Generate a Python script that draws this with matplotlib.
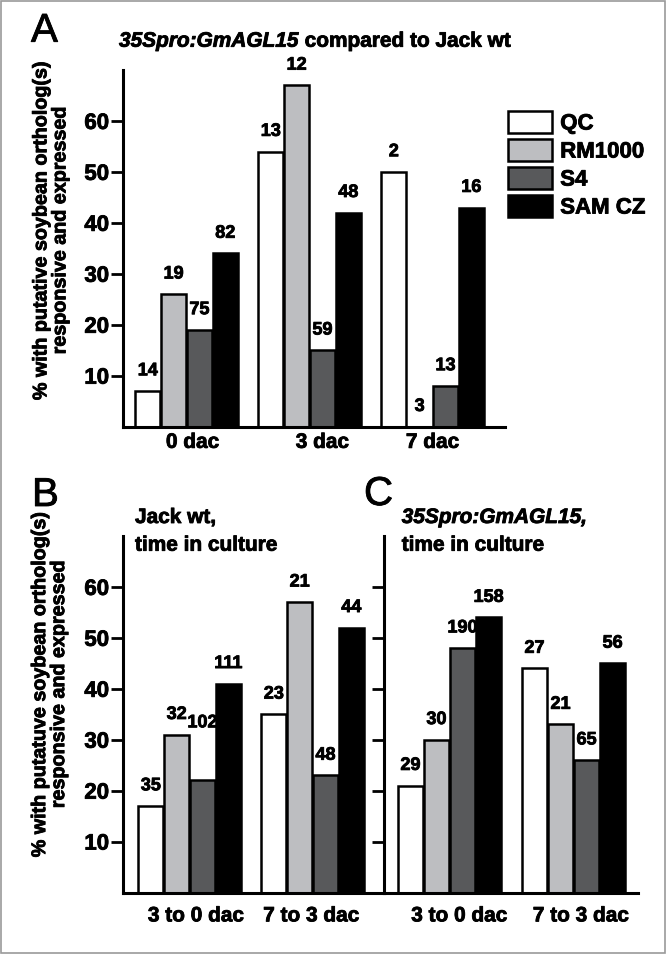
import numpy as np
import matplotlib.pyplot as plt
from matplotlib.patches import Patch, Rectangle
from matplotlib.text import Text
import matplotlib.patheffects as pe

# categories and series
series = ["QC", "RM1000", "S4", "SAM CZ"]
colors = ["white", "#bdbec1", "#58595b", "black"]

a_groups = ["0 dac", "3 dac", "7 dac"]
bc_groups = ["3 to 0 dac", "7 to 3 dac"]

# % with putative soybean ortholog(s), one row per series
a_pct = [[7, 54, 50], [26, 67, 0], [19, 15, 8], [34, 42, 43]]
b_pct = [[17, 35], [31, 57], [22, 23], [41, 52]]
c_pct = [[21, 44], [30, 33], [48, 26], [54, 45]]

# numbers written above the bars
a_n = [[14, 13, 2], [19, 12, 3], [75, 59, 13], [82, 48, 16]]
b_n = [[35, 23], [32, 21], [102, 48], [111, 44]]
c_n = [[29, 27], [30, 21], [190, 65], [158, 56]]

W, H = 669, 957
plt.rcParams['font.family'] = ['Liberation Sans', 'DejaVu Sans']
plt.rcParams['font.weight'] = 'bold'

fig = plt.figure(figsize=(W / 100, H / 100), dpi=100)


def box(x0, y0, x1, y1):
    # pixel box (y from top) -> figure fraction
    return [x0 / W, 1 - y1 / H, (x1 - x0) / W, (y1 - y0) / H]


axA = fig.add_axes(box(123, 70, 505, 426.6))
axB = fig.add_axes(box(123, 536, 384, 892.5))
axC = fig.add_axes(box(384, 536, 638, 892.5))

BW = 0.21


def draw(ax, pct, n, groups, xlim, label_shift, xpad, nudge=None, ticklabels=True):
    nudge = nudge or {}
    x = np.arange(len(groups))
    for i in range(len(series)):
        pos = x + (i - 1.5) * BW
        ax.bar(pos, pct[i], BW * 0.97, color=colors[i], edgecolor='black',
               linewidth=1.8, zorder=2)
        for j in range(len(groups)):
            ax.annotate(str(n[i][j]), (pos[j], pct[i][j]),
                        xytext=(0, 14.5 + nudge.get((i, j), 0)),
                        textcoords='offset points', ha='center', va='center',
                        fontsize=13)
    ax.set_xlim(*xlim)
    ax.set_ylim(0, 70)
    ax.set_yticks(range(10, 70, 10))
    if not ticklabels:
        ax.set_yticklabels([])
    ax.set_xticks(x + np.array(label_shift), groups)
    ax.tick_params(axis='x', length=0, pad=xpad, labelsize=15)
    ax.tick_params(axis='y', length=9, width=2, labelsize=16, pad=1)
    for s in ['top', 'right']:
        ax.spines[s].set_visible(False)
    for s in ['left', 'bottom']:
        ax.spines[s].set_linewidth(2.2)


draw(axA, a_pct, a_n, a_groups, (-0.516, 2.589), [0.05, 0.105, 0.0], 4.5)
draw(axB, b_pct, b_n, bc_groups, (-0.541, 1.581), [0.053, -0.01], 10,
     nudge={(2, 0): 27})
draw(axC, c_pct, c_n, bc_groups, (-0.528, 1.52), [0.08, 0.06], 10,
     ticklabels=False)

ylab = "% with {} soybean ortholog(s)\nresponsive and expressed"
axA.text(-0.19, 0.55, ylab.format("putative"), transform=axA.transAxes,
         rotation=90, ha='center', va='center', fontsize=14.2,
         linespacing=1.0, multialignment='center')
axB.text(-0.283, 0.584, ylab.format("putatuve"), transform=axB.transAxes,
         rotation=90, ha='center', va='center', fontsize=14.2,
         linespacing=1.0, multialignment='center')

# panel letters
for letter, px, py in [("A", 31, 41.7), ("B", 32, 506), ("C", 364, 505)]:
    fig.text(px / W, 1 - py / H, letter, fontsize=29, fontweight='normal',
             va='baseline')

# panel titles
t1 = fig.text(119 / W, 1 - 46.7 / H, "35Spro:GmAGL15", style='italic',
              fontsize=15, va='baseline')
axA.annotate(" compared to Jack wt", xy=(1, 0), xycoords=t1, ha='left',
             va='bottom', fontsize=15, annotation_clip=False)
fig.text(135 / W, 1 - 523 / H, "Jack wt,", fontsize=15, va='baseline')
fig.text(135 / W, 1 - 550.7 / H, "time in culture", fontsize=15, va='baseline')
fig.text(401.7 / W, 1 - 523 / H, "35Spro:GmAGL15,", style='italic',
         fontsize=15, va='baseline')
fig.text(401.7 / W, 1 - 550.7 / H, "time in culture", fontsize=15,
         va='baseline')

handles = [Patch(facecolor=c, edgecolor='black', linewidth=1.8) for c in colors]
fig.legend(handles, series, loc='upper left', bbox_to_anchor=(508 / W, 1 - 111 / H),
           frameon=False, fontsize=16, handlelength=2.0, handleheight=1.15,
           handletextpad=0.35, labelspacing=0.2, borderpad=0, borderaxespad=0)

fig.add_artist(Rectangle((0.5 / W, 1 - 953 / H), 664.5 / W, 952.5 / H,
                         transform=fig.transFigure, fill=False,
                         edgecolor='#9a9a9a', linewidth=1.2))

# the printed figure has heavy type: thicken every text slightly
for t in fig.findobj(Text):
    t.set_path_effects([pe.withStroke(linewidth=0.6, foreground='black')])

fig.savefig('out.png', dpi=100)
